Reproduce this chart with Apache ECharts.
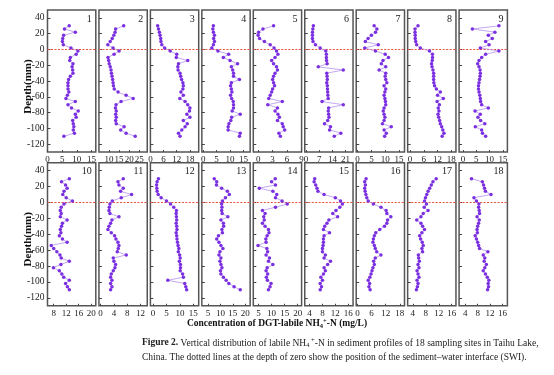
<!DOCTYPE html>
<html><head><meta charset="utf-8">
<script src="https://cdn.jsdelivr.net/npm/echarts@6/dist/echarts.min.js"></script>
<style>html,body{margin:0;padding:0;background:#fff}#c{width:554px;height:375px}</style>
</head><body><div id="c"></div>
<script>
// depth (mm) of each sample, shared by all sites
const depths = [30,26,22,18,14,10,6,2,-2,-6,-10,-14,-18,-22,-26,-30,-34,-38,-42,-46,-50,-54,-58,-62,-66,-70,-74,-78,-82,-86,-90,-94,-98,-102,-106,-110];

// DGT-labile NH4+-N (mg/L) per site, top to bottom
const site1  = [7.4,5.8,9.5,5.5,5.2,5.1,5.4,8,10.4,9.8,7.8,7.6,8.7,8.4,8.6,8.7,7.8,7.2,7,7,7,7.3,6.8,6.3,9.5,7,8.2,10.5,9.5,9.8,8.6,8.8,9,8.8,9.2,5.6];
const site2  = [17.3,13.3,13,12.4,11.6,10.6,9.4,12,15,12.5,9.5,9.8,10.1,10.6,11,11.2,11.5,11.8,12,12.2,12.6,14.5,18.5,22,16,13.5,13.2,13.6,13.3,13.6,13.3,13.6,17.5,15.8,18.5,23];
const site3  = [3.3,3.7,4.1,4.4,4.7,4.8,5.2,6.5,9,12,11.8,17,12.8,12.5,12.6,13.5,13.8,14.2,14.8,15,14.8,13.9,15,13.4,15.8,17,18,17.8,16.6,18,15,16.8,15.8,14.3,12.8,13.5];
const site4  = [3.8,3.6,3.8,4.2,3.9,4.2,3.8,3.2,5.5,9.5,7.5,10,12.8,10.5,11,11.3,11.3,13.5,10.5,10.2,10.5,10.7,10.2,10.6,11.2,11.3,11.3,10.8,13.8,10.6,10.3,9.6,9.3,9.3,13.8,13.5];
const site5  = [3.2,1,0.1,0,0.3,1.3,2.5,3.3,3.8,4.1,3.5,2.8,3.2,3.8,4,3.5,3.2,3,3.2,3.4,3,2.8,2.5,2.2,5,2,4,3.5,4.1,4.4,4,5,5.2,5.5,4.3,4.6];
const site6  = [3.9,3.6,3.4,3.4,3.4,3.7,5,7.5,10.5,10.8,10.8,10.9,11.2,6.5,19.8,11,11.2,11.3,11,11.3,11.4,11.5,11.6,11.8,8.5,19.8,12,11.8,12,12.2,11.5,9.8,13,12.5,18.5,15];
const site7  = [6,7,6.5,5,3.8,2.8,7.5,2.6,6.5,10,11.2,9.2,8.6,10.2,7.8,10.2,10,10.2,10.6,9.6,10.2,9.9,9.6,9.9,10.1,10.2,9.6,9.3,9.6,9.9,9.6,9,12.2,9.6,10.4,9.8];
const site8  = [3.5,2.2,2.2,2.3,2.3,2.5,2.9,4.5,8.5,9.8,9.8,9.7,9.4,9.6,10,10.3,10.3,10.3,10.4,10.7,11.5,13.2,12,14.5,11.8,12.8,12.3,12.6,12.2,12.5,12.9,13.2,13.8,14.3,14.8,14];
const site9  = [13.5,3.5,12,9.5,11,8.5,9.8,6.5,13.5,8.5,7,6,5.5,6,6.4,6.5,6.4,6.2,6,5.8,5.8,6,6.3,6.5,6.6,7,9.5,4.5,6.5,5.6,6.6,8.2,4.6,7,7.3,8.5];
const site10 = [13,10.5,11.8,12.3,11.3,10.9,12,14,11.3,10.4,10.1,10.4,10.1,12.3,10.8,10.5,10.1,10.3,9.8,10.8,12.3,7.2,8,9,10,10.4,13,10.3,7.9,9.8,10.6,11.2,13,11.8,12.4,13];
const site11 = [6.8,5.2,5.5,6.8,6,9.3,6.2,3.5,2.8,2.6,2.5,2.8,5.5,3.4,3,2.5,2.2,3.2,4.2,4.6,5.2,5.5,5.3,5,7.7,3.8,4,4.5,4.3,3.8,3.2,3,3.4,3,3.4,3];
const site12 = [2,1.5,1.3,1.4,1.5,1.9,3,5,6.5,7.7,8.7,8.6,8.7,8.8,8.6,8.8,8.9,8.6,8.8,8.9,9.1,9.3,9.6,9.4,9.9,10.1,9.8,10.2,10.2,10.1,11,11.3,5.5,11.8,12.2,12.5];
const site13 = [7.5,8.5,8.4,10.5,12.8,13.6,12,10.8,10.5,10.6,10.5,10.7,13,10.2,11.2,11.3,10.6,10.8,9.2,8.5,9.4,10.2,11,9.8,9.4,10.2,9.8,10.2,10.6,10,10.2,11.2,12.3,13.4,15.5,18];
const site14 = [11.4,10,11.5,5.3,10.5,12,11.5,14,16,11.5,6.5,7.5,7,7.2,6.5,7.5,8.8,9,8.3,7.8,7.9,4.8,8.2,8.5,7.9,9.2,8.8,10.5,8.3,7.9,8.5,8,8.4,9.8,9.4,8.8];
const site15 = [5.6,5.4,5.9,6.3,6.6,8.5,12,13.6,14.2,13.4,12.2,11.2,12.7,10,9.4,8.7,8.3,10.2,8.5,8.3,8.3,8.2,8,8,8.9,8.5,10.5,9.6,8.5,8.9,8.3,7.5,8,7.3,7.7,7.3];
const site16 = [3.7,3.1,3.4,3.1,3.3,3.6,4,4.6,6.8,10,12.2,12.5,14.2,12.8,12.5,11.5,9.5,7.8,7.2,6.8,6.6,7.2,7.6,8.2,10,7.6,6.9,7.2,6.6,6.2,5.8,5.3,4.6,5.2,4.9,5.4];
const site17 = [11.2,10.2,9.7,9.2,8.7,8.3,7.9,7.6,8.2,7.5,8.7,7.2,6.5,5.2,6.5,7,7.6,6.8,6.1,6.4,6.9,7.2,6.8,7,5.7,5.8,6,5.6,5.9,5.3,5.6,5.9,5.3,5.6,5.4,5.1];
const site18 = [6,9.5,9.9,10.2,10.5,12.3,6.8,7.6,8.4,8.3,8.5,8.6,7.8,8.5,8.3,8,7.8,7.9,7.2,7.6,8,8.3,8.6,11.3,9.8,10.3,10.1,10.8,10.3,9.8,10.5,11.1,11.6,11.4,11.5,11.2];

const siteNames = ['1','2','3','4','5','6','7','8','9','10','11','12','13','14','15','16','17','18'];
const xMins = [0,5,0,-0.5,-1,-0.7,-0.5,-1,-1.5, 6,-0.5,-1,2.5,3,2.5,-0.5,2.4,2];
const xMaxs = [16.5,29,22,17.5,9,25,17,20,16.7, 21.5,14,17,22,21.5,17.5,20,17.3,17.6];
const xTickLabels = [[0,5,10,15],[10,15,20,25],[0,6,12,18],[0,5,10,15],[0,3,6,9],[0,7,14,21],[0,5,10,15],[0,6,12,18],[0,5,10,15],
                     [8,12,16,20],[0,4,8,12],[0,5,10,15],[5,10,15,20],[5,10,15,20],[4,8,12,16],[0,6,12,18],[4,8,12,16],[4,8,12,16]];
const yTickLabels = [40,20,0,-20,-40,-60,-80,-100,-120];
const yMin = -130, yMax = 50;

const sites = [site1,site2,site3,site4,site5,site6,site7,site8,site9,site10,site11,site12,site13,site14,site15,site16,site17,site18];

const SERIF = '"Liberation Serif","Times New Roman",serif';
const colLeft0 = 47.5, colStep = 51.45, panelW = 48.3;
const rowTop = [10.06, 162.76], panelH = [142, 143];

const grids = [], xAxes = [], yAxes = [], series = [], graphics = [];
sites.forEach((vals, i) => {
  const r = Math.floor(i / 9), c = i % 9;
  const left = colLeft0 + c * colStep, top = rowTop[r];
  grids.push({left: left, top: top, width: panelW, height: panelH[r], show: true,
    borderColor: '#555', borderWidth: 1.5, backgroundColor: '#fff', containLabel: false});
  xAxes.push({type: 'value', gridIndex: i, min: xMins[i], max: xMaxs[i], position: 'bottom',
    axisLine: {show: false, onZero: false}, splitLine: {show: false},
    axisTick: {show: true, inside: true, length: 2, customValues: xTickLabels[i], lineStyle: {color: '#444'}},
    axisLabel: {customValues: xTickLabels[i], fontFamily: SERIF, fontSize: 9, color: '#222', margin: 3}});
  yAxes.push({type: 'value', gridIndex: i, min: yMin, max: yMax, position: 'left',
    axisLine: {show: false, onZero: false}, splitLine: {show: false},
    axisTick: {show: true, inside: true, length: 3, customValues: yTickLabels, lineStyle: {color: '#444'}},
    axisLabel: {show: c === 0, customValues: yTickLabels, fontFamily: SERIF, fontSize: 9.5, color: '#222', margin: 3}});
  series.push({type: 'line', xAxisIndex: i, yAxisIndex: i,
    data: vals.map((v, k) => [v, depths[k]]),
    symbol: 'circle', symbolSize: 3.5, showSymbol: true,
    itemStyle: {color: '#7a2fe0'}, lineStyle: {color: '#b592ec', width: 0.8},
    markLine: {silent: true, symbol: 'none', label: {show: false}, z: 1,
      lineStyle: {color: '#e8503a', type: [2, 1.5], width: 1.1, opacity: 1}, data: [{yAxis: 0}]},
    animation: false, z: 3});
  graphics.push({type: 'text', x: left + panelW - 4, y: top + 4, z: 10,
    style: {text: siteNames[i], textAlign: 'right', textVerticalAlign: 'top', fontSize: 10, fontFamily: SERIF, fill: '#222'}});
  if (c === 0) {
    graphics.push({type: 'text', x: 28, y: top + 76.5, rotation: Math.PI / 2, z: 10,
      style: {text: 'Depth(mm)', textAlign: 'center', textVerticalAlign: 'middle', fontSize: 11, fontWeight: 'bold', fontFamily: SERIF, fill: '#111'}});
  }
});

graphics.push({type: 'text', x: 277, y: 324, z: 10,
  style: {text: 'Concentration of DGT-labile NH{sub|4}{sup|+}-N (mg/L)', textAlign: 'center', textVerticalAlign: 'middle',
    fontSize: 9.5, fontWeight: 'bold', fontFamily: SERIF, fill: '#111', lineHeight: 12,
    rich: {sub: {fontSize: 6.5, fontWeight: 'bold', fontFamily: SERIF, verticalAlign: 'bottom', lineHeight: 12, fill: '#111'},
           sup: {fontSize: 6.5, fontWeight: 'bold', fontFamily: SERIF, verticalAlign: 'top', lineHeight: 12, fill: '#111'}}}});
graphics.push({type: 'text', x: 142, y: 343, z: 10,
  style: {text: '{b|Figure 2.} Vertical distribution of labile NH{sub|4}{sup| +}-N in sediment profiles of 18 sampling sites in Taihu Lake,',
    textAlign: 'left', textVerticalAlign: 'middle', fontSize: 9.5, fontFamily: SERIF, fill: '#222', lineHeight: 12,
    rich: {b: {fontWeight: 'bold', fontSize: 9.5, fontFamily: SERIF, fill: '#222', lineHeight: 12},
           sub: {fontSize: 6.5, fontFamily: SERIF, verticalAlign: 'bottom', lineHeight: 12, fill: '#222'},
           sup: {fontSize: 6.5, fontFamily: SERIF, verticalAlign: 'top', lineHeight: 12, fill: '#222'}}}});
graphics.push({type: 'text', x: 142, y: 357.5, z: 10,
  style: {text: 'China. The dotted lines at the depth of zero show the position of the sediment\u2013water interface (SWI).',
    textAlign: 'left', textVerticalAlign: 'middle', fontSize: 9.5, fontFamily: SERIF, fill: '#222'}});

const chart = echarts.init(document.getElementById('c'), null, {renderer: 'canvas'});
chart.setOption({animation: false, backgroundColor: '#fff', grid: grids, xAxis: xAxes, yAxis: yAxes, series: series, graphic: graphics});
</script></body></html>
